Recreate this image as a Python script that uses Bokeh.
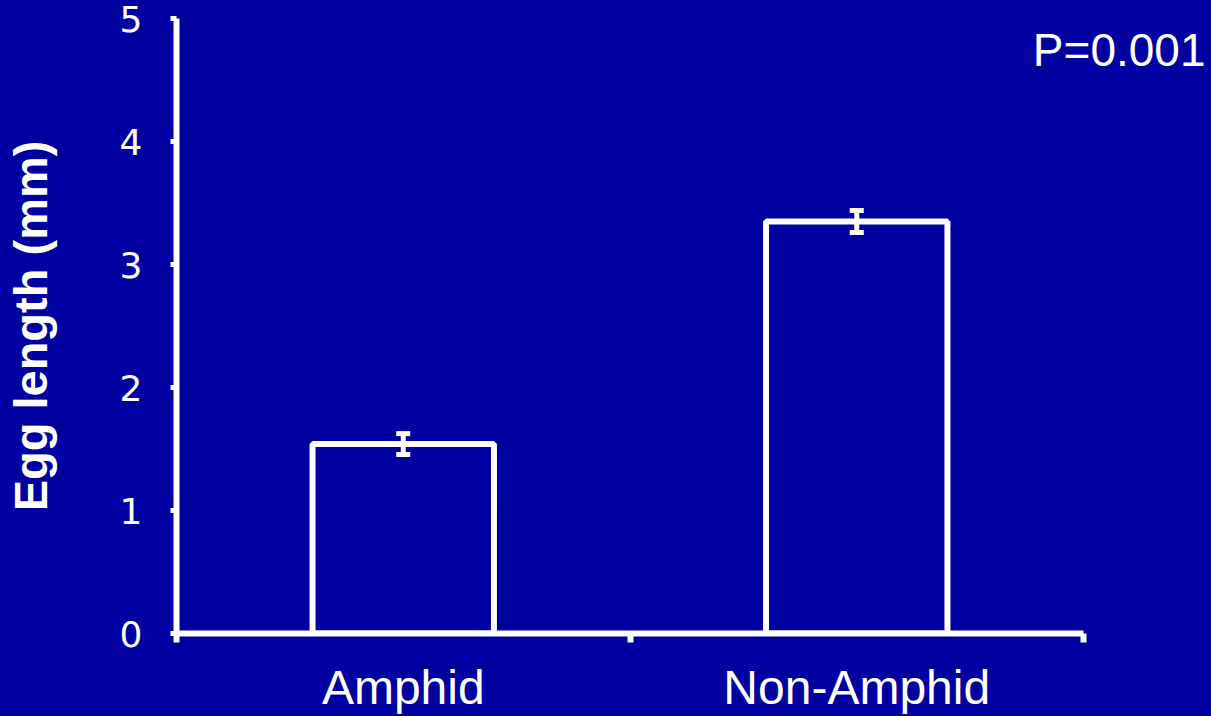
from bokeh.plotting import figure
from bokeh.models import FixedTicker, Whisker, TeeHead, ColumnDataSource, Label, Range1d
from bokeh.embed import file_html
from bokeh.resources import INLINE

# ---- data ----
categories = ["Amphid", "Non-Amphid"]
egg_length = [1.54, 3.35]
error = [0.085, 0.09]
y_ticks = [0, 1, 2, 3, 4, 5]
y_label = "Egg length (mm)"
p_text = "P=0.001"

BG = "#0000A0"
WHITE = "white"

n = len(categories)
xs = [i + 0.5 for i in range(n)]
src = ColumnDataSource(dict(
    x=xs,
    top=egg_length,
    upper=[m + e for m, e in zip(egg_length, error)],
    lower=[m - e for m, e in zip(egg_length, error)],
))

# frame runs to the right edge so the P label is not clipped; the axis is bounded to the categories
x_end = n * (1211 - 176) / 907.0
p = figure(width=1211, height=716, output_backend="svg", toolbar_location=None,
           x_range=Range1d(0, x_end), y_range=Range1d(y_ticks[0], y_ticks[-1]),
           min_border_left=176, min_border_right=0, min_border_top=18, min_border_bottom=83)
p.styles = {"background-color": BG}
p.background_fill_alpha = 0
p.border_fill_alpha = 0
p.outline_line_color = None
p.grid.visible = False

p.vbar(x="x", top="top", bottom=0, width=0.4, source=src,
       fill_color=None, line_color=WHITE, line_width=6)

head = dict(size=14, line_color=WHITE, line_width=5)
w = Whisker(base="x", upper="upper", lower="lower", source=src,
            line_color=WHITE, line_width=5,
            upper_head=TeeHead(**head), lower_head=TeeHead(**head))
w.level = "overlay"
p.add_layout(w)

# x axis
xa = p.xaxis[0]
xa.bounds = (0, n)
xa.ticker = FixedTicker(ticks=xs, minor_ticks=list(range(n + 1)))
xa.major_label_overrides = {x: c for x, c in zip(xs, categories)}
xa.axis_line_color = WHITE
xa.axis_line_width = 6
xa.major_tick_out = 0
xa.major_tick_in = 0
xa.minor_tick_out = 9
xa.minor_tick_in = 0
xa.minor_tick_line_color = WHITE
xa.minor_tick_line_width = 6
xa.major_label_text_color = WHITE
xa.major_label_text_font = "Liberation Sans"
xa.major_label_text_font_size = "48px"
xa.major_label_standoff = 18

# y axis
ya = p.yaxis[0]
ya.ticker = FixedTicker(ticks=y_ticks, minor_ticks=[])
ya.axis_line_color = WHITE
ya.axis_line_width = 6
ya.major_tick_out = 6
ya.major_tick_in = 0
ya.major_tick_line_color = WHITE
ya.major_tick_line_width = 5
ya.major_label_text_color = WHITE
ya.major_label_text_font = "DejaVu Sans"
ya.major_label_text_font_size = "36px"
ya.major_label_standoff = 28
ya.axis_label = y_label
ya.axis_label_text_color = WHITE
ya.axis_label_text_font = "Liberation Sans"
ya.axis_label_text_font_style = "bold"
ya.axis_label_text_font_size = "47px"
ya.axis_label_standoff = 60

p.add_layout(Label(x=2.269, y=4.955, text=p_text,
                   text_align="right", text_baseline="top",
                   text_color=WHITE, text_font="Liberation Sans",
                   text_font_size="46px"))

open("out.html", "w").write(file_html(p, INLINE))
